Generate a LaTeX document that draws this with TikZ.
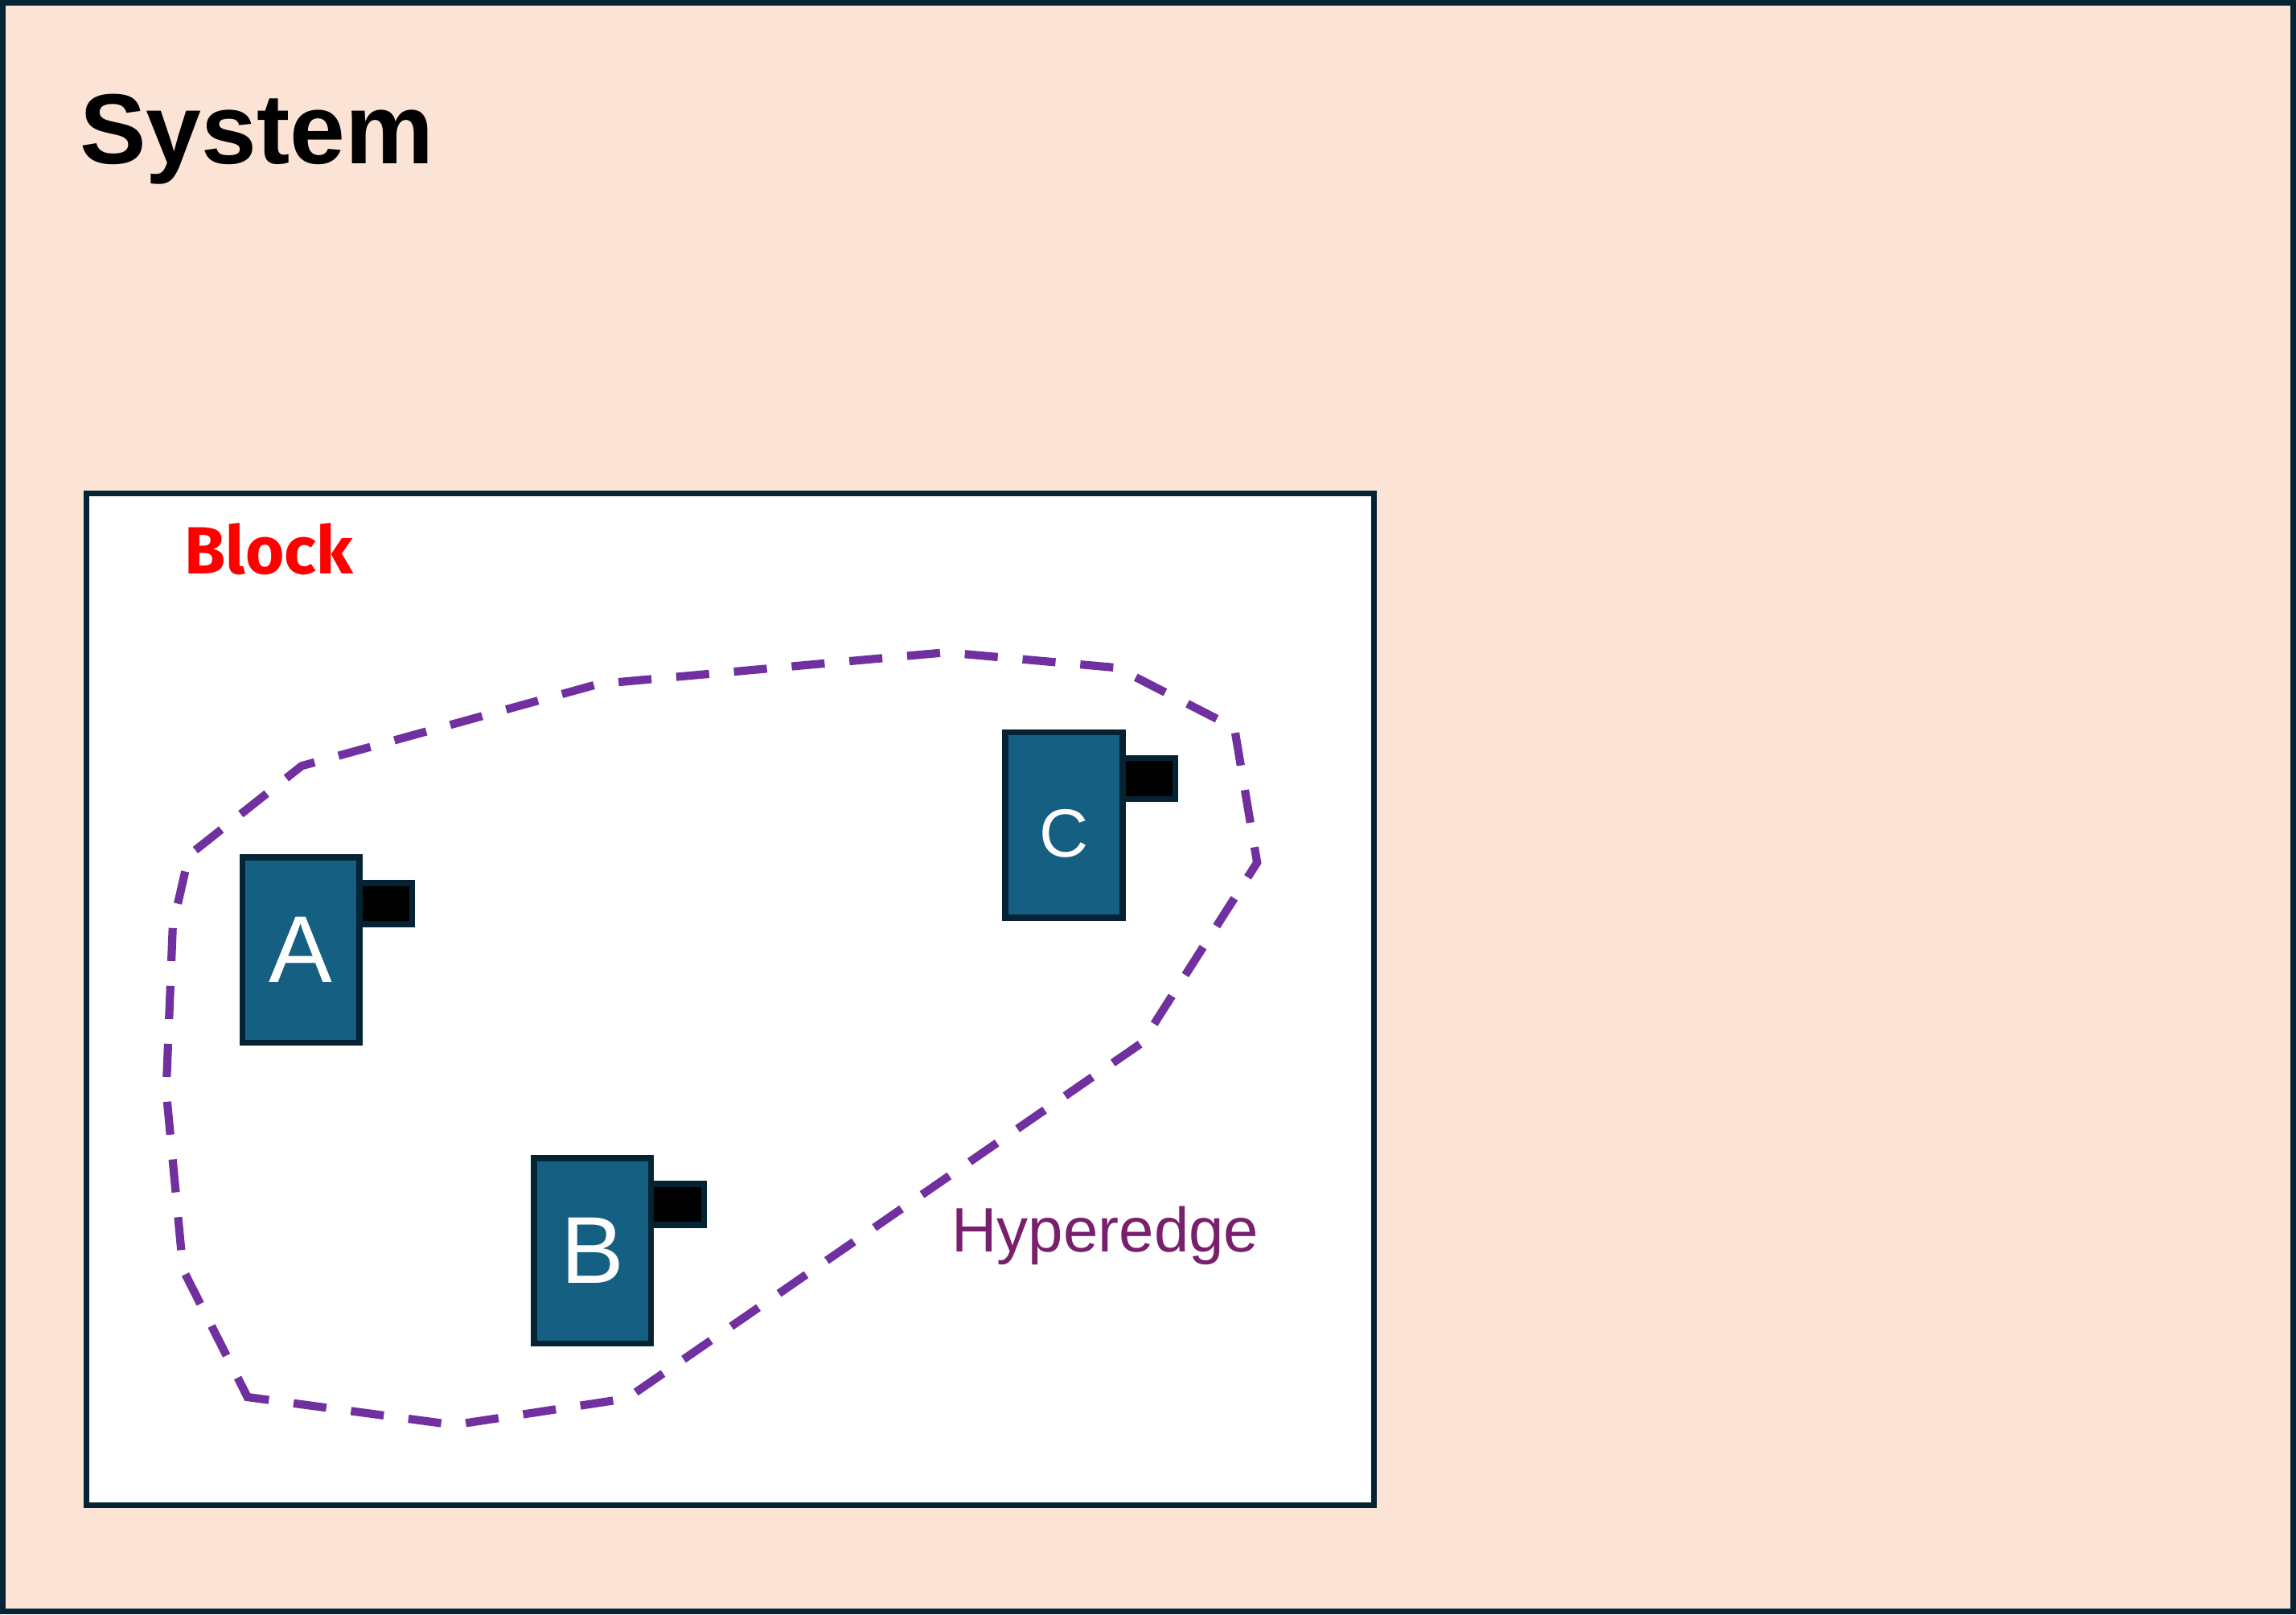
\documentclass[tikz,border=0pt]{standalone}
\usepackage{fontspec}
\setmainfont{Liberation Sans}
\newfontfamily\aptos{Fira Sans}
\definecolor{peach}{HTML}{FBE3D6}
\definecolor{navy}{HTML}{042433}
\definecolor{boxblue}{HTML}{156082}
\definecolor{hpurple}{HTML}{7030A0}
\definecolor{hlabel}{HTML}{78206E}
\begin{document}
\begin{tikzpicture}[x=0.0182079cm,y=-0.0182079cm,
  frame/.style={draw=navy, line width=2pt},
  comp/.style={draw=navy, line width=2.1pt, fill=boxblue, rectangle, outer sep=0pt, inner sep=0pt,
    minimum width=1.4566cm, minimum height=2.3033cm, text=white, font=\fontsize{33.6}{36}\selectfont},
  port/.style={draw=navy, line width=2.1pt, fill=black, rectangle, outer sep=0pt, inner sep=0pt,
    minimum width=0.6555cm, minimum height=0.5098cm, anchor=north west},
  hedge/.style={draw=hpurple, line width=2.9pt, dash pattern=on 11.7pt off 8.8pt, line join=miter}]
\useasboundingbox (0,0) rectangle (1568,1102.27);
% system frame
\draw[frame, fill=peach] (1.9,1.9) rectangle (1566.1,1100.4);
\node[anchor=base west, inner sep=0pt, font=\bfseries\fontsize{35.2}{40}\selectfont] (sys) at (54,111.5) {System};
% block
\node[draw=navy, line width=2pt, fill=white, rectangle, inner sep=0pt, outer sep=0pt,
  minimum width=16.0018cm, minimum height=12.5816cm] (blk) at (498.8,682.4) {};
\node[anchor=base west, inner sep=0pt, text=red, font=\aptos\bfseries\fontsize{23.6}{26}\selectfont] (blklbl) at (125.7,392) {Block};
% hyperedge
\draw[hedge] (165.5,947) -- (169,954) -- (310,973) -- (428,955) -- (780,712) -- (858.5,589)
  -- (843,497) -- (763,456) -- (646,445.5) -- (409,467) -- (206,523) -- (129,584)
  -- (118,632) -- (113.5,745) -- (125,867) -- cycle;
\node[anchor=base west, inner sep=0pt, text=hlabel, font=\fontsize{22.2}{24}\selectfont] (hlbl) at (649.6,855) {Hyperedge};
% components
\node[comp] (A) at (205.5,648.8) {A};
\node[comp] (B) at (404.7,854.2) {B};
\node[comp, font=\fontsize{24.1}{26}\selectfont, text height=22.8pt, text depth=0pt] (C) at (726.6,563.3) {C};
\node[port] (Ap) at ([yshift=-0.3186cm]A.north east) {};
\node[port] (Bp) at ([yshift=-0.3186cm]B.north east) {};
\node[port] (Cp) at ([yshift=-0.3186cm]C.north east) {};
\end{tikzpicture}
\end{document}
